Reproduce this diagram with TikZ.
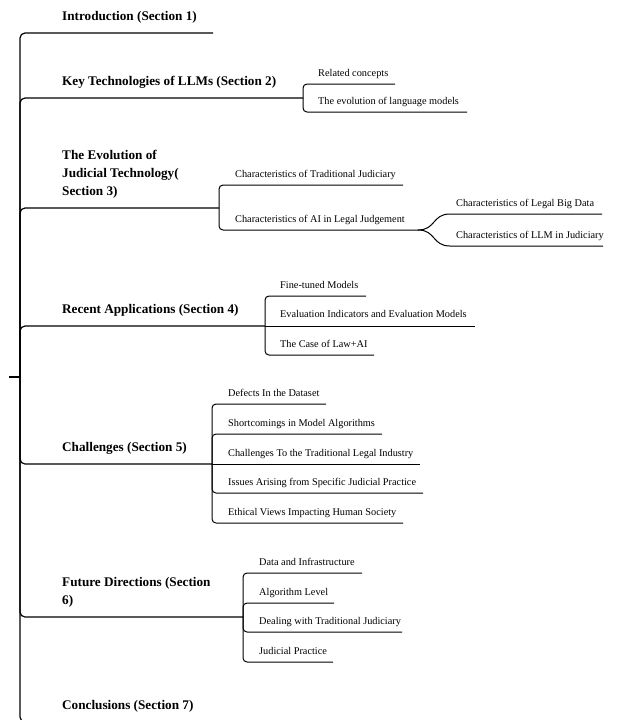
\documentclass[tikz,border=0pt]{standalone}
\usepackage{fontspec}
\setmainfont{Liberation Serif}
\usepackage{tikz}
\usetikzlibrary{positioning}

\tikzset{
  sec/.style={font=\fontsize{13.2}{18}\selectfont\bfseries, anchor=south west, inner sep=0pt, align=left},
  sub/.style={font=\fontsize{10.3}{12}\selectfont, anchor=base west, inner sep=0pt},
  trunk/.style={line width=1.2pt, rounded corners=5pt},
  twig/.style={line width=1pt, rounded corners=4pt}
}

\begin{document}
\begin{tikzpicture}[x=1pt, y=-1pt]
                \useasboundingbox (0,0) rectangle (616,720);

                \coordinate (root) at (9,377);
                \coordinate (hub) at (20,377);
                \draw[line width=1.2pt] (root) -- (hub);

                % section 1
                \coordinate (introend) at (213,33);
                \node[sec] (intro) at (62,23.5) {Introduction (Section 1)};
                \draw[trunk] (hub) |- (introend);

                % section 2
                \coordinate (keyj) at (303,98);
                \node[sec] (key) at (62,88.5) {Key Technologies of LLMs (Section 2)};
                \draw[trunk] (hub) |- (keyj);
                \coordinate (relend) at (395,84);
                \coordinate (evoend) at (467,112);
                \node[sub] (rel) at (318,76) {Related concepts};
                \node[sub] (evo) at (318,104) {The evolution of language models};
                \draw[twig] (keyj) |- (relend);
                \draw[twig] (keyj) |- (evoend);

                % section 3
                \coordinate (judj) at (219,208);
                \node[sec] (jud) at (62,198.5) {The Evolution of\\Judicial Technology(\\Section 3)};
                \draw[trunk] (hub) |- (judj);
                \coordinate (tradend) at (403,185);
                \coordinate (aij) at (418,230);
                \node[sub] (trad) at (235,177.5) {Characteristics of Traditional Judiciary};
                \node[sub] (ai) at (235,222.5) {Characteristics of AI in Legal Judgement};
                \draw[twig] (judj) |- (tradend);
                \draw[twig] (judj) |- (aij);
                \coordinate (bigbeg) at (450,214);
                \coordinate (bigend) at (602,214);
                \coordinate (llmbeg) at (450,246);
                \coordinate (llmend) at (603,246);
                \node[sub] (big) at (456,206.5) {Characteristics of Legal Big Data};
                \node[sub] (llm) at (456,238.5) {Characteristics of LLM in Judiciary};
                \draw[line width=1pt] (aij) .. controls (436,230) and (432,214) .. (bigbeg) -- (bigend);
                \draw[line width=1pt] (aij) .. controls (436,230) and (432,246) .. (llmbeg) -- (llmend);

                % section 4
                \coordinate (appj) at (265,326);
                \node[sec] (app) at (62,316.5) {Recent Applications (Section 4)};
                \draw[trunk] (hub) |- (appj);
                \coordinate (fineend) at (366,296);
                \coordinate (evalend) at (475,326);
                \coordinate (caseend) at (374,355);
                \node[sub] (fine) at (280,288) {Fine-tuned Models};
                \node[sub] (eval) at (280,317) {Evaluation Indicators and Evaluation Models};
                \node[sub] (case) at (280,347) {The Case of Law+AI};
                \draw[twig] (appj) |- (fineend);
                \draw[twig] (appj) -- (evalend);
                \draw[twig] (appj) |- (caseend);

                % section 5
                \coordinate (chaj) at (212,464);
                \node[sec] (cha) at (62,454.5) {Challenges (Section 5)};
                \draw[trunk] (hub) |- (chaj);
                \coordinate (defend) at (326,404);
                \coordinate (shoend) at (382,434);
                \coordinate (indend) at (420,464);
                \coordinate (issend) at (423,493);
                \coordinate (ethend) at (403,523);
                \node[sub] (def) at (228,396) {Defects In the Dataset};
                \node[sub] (sho) at (228,426) {Shortcomings in Model Algorithms};
                \node[sub] (ind) at (228,456) {Challenges To the Traditional Legal Industry};
                \node[sub] (iss) at (228,485) {Issues Arising from Specific Judicial Practice};
                \node[sub] (eth) at (228,515) {Ethical Views Impacting Human Society};
                \draw[twig] (chaj) |- (defend);
                \draw[twig] (chaj) |- (shoend);
                \draw[twig] (chaj) -- (indend);
                \draw[twig] (chaj) |- (issend);
                \draw[twig] (chaj) |- (ethend);

                % section 6
                \coordinate (futj) at (243,617);
                \node[sec] (fut) at (62,607.5) {Future Directions (Section\\6)};
                \draw[trunk] (hub) |- (futj);
                \coordinate (dataend) at (362,573);
                \coordinate (algend) at (334,603);
                \coordinate (dealend) at (402,632);
                \coordinate (pracend) at (333,662);
                \node[sub] (data) at (259,565) {Data and Infrastructure};
                \node[sub] (alg) at (259,595) {Algorithm Level};
                \node[sub] (deal) at (259,624) {Dealing with Traditional Judiciary};
                \node[sub] (prac) at (259,654) {Judicial Practice};
                \draw[twig] (futj) |- (dataend);
                \draw[twig] (futj) |- (algend);
                \draw[twig] (futj) |- (dealend);
                \draw[twig] (futj) |- (pracend);

                % section 7
                \coordinate (conend) at (230,722);
                \node[sec] (con) at (62,712.5) {Conclusions (Section 7)};
                \draw[trunk] (hub) |- (conend);

        \end{tikzpicture}
\end{document}
